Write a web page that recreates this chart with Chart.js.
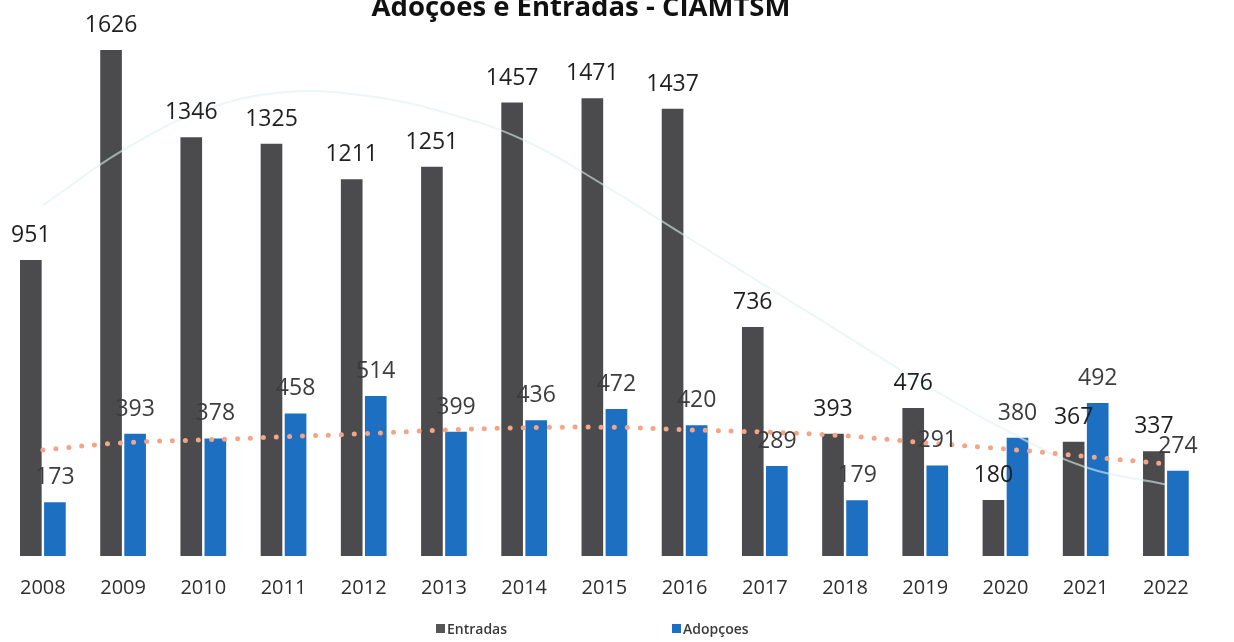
<!DOCTYPE html>
<html>
<head>
<meta charset="utf-8">
<script src="https://cdn.jsdelivr.net/npm/chart.js@4.4.0/dist/chart.umd.min.js"></script>
<style>
html,body{margin:0;padding:0;background:#fff;}
#wrap{position:relative;width:1234px;height:642px;}
</style>
</head>
<body>
<div id="wrap"><canvas id="c" width="1234" height="642"></canvas></div>
<script>
const years = ['2008','2009','2010','2011','2012','2013','2014','2015','2016','2017','2018','2019','2020','2021','2022'];
const entradas = [951,1626,1346,1325,1211,1251,1457,1471,1437,736,393,476,180,367,337];
const adopcoes = [173,393,378,458,514,399,436,472,420,289,179,291,380,492,274];
const adopcoesTrend = [341,364,373,383,393,405,412,414,406,398,386,364,344,320,296];
const entradasTrend = [1127,1304,1432,1490,1480,1426,1336,1191,1030,870,710,550,405,285,230];
const titleText = 'Adoçoes e Entradas - CIAMTSM';
const seriesNames = ['Entradas','Adopçoes'];

const GRAY = '#4b4b4d';
const BLUE = '#1c6fc1';
const FONT = '"Open Sans", "DejaVu Sans", sans-serif';

const labelPlugin = {
  id: 'barLabels',
  afterDatasetsDraw(chart) {
    const ctx = chart.ctx;
    ctx.save();
    ctx.font = '23px ' + FONT;
    ctx.textAlign = 'center';
    ctx.textBaseline = 'alphabetic';
    [0,1].forEach(di => {
      const meta = chart.getDatasetMeta(di);
      const ds = chart.data.datasets[di];
      ctx.fillStyle = di === 0 ? '#1f1f1f' : '#3c3c3c';
      meta.data.forEach((el, i) => {
        ctx.fillText(String(ds.data[i]), el.x, el.y - 18);
      });
    });
    ctx.restore();
  }
};

const titlePlugin = {
  id: 'topTitle',
  afterDraw(chart) {
    const ctx = chart.ctx;
    ctx.save();
    ctx.font = 'bold 27.5px ' + FONT;
    ctx.fillStyle = '#111';
    ctx.textAlign = 'center';
    ctx.textBaseline = 'alphabetic';
    ctx.fillText(titleText, 581, 16);
    ctx.restore();
  }
};

const legendPlugin = {
  id: 'customLegend',
  afterDraw(chart) {
    const ctx = chart.ctx;
    ctx.save();
    ctx.font = '600 14px ' + FONT;
    ctx.textBaseline = 'alphabetic';
    ctx.textAlign = 'left';
    const items = [{x:436, color:'#555'}, {x:672, color:BLUE}];
    items.forEach((it, k) => {
      ctx.fillStyle = it.color;
      ctx.fillRect(it.x, 624, 9, 9);
      ctx.fillStyle = '#3a3a3a';
      ctx.fillText(seriesNames[k], it.x + 11, 634);
    });
    ctx.restore();
  }
};

new Chart(document.getElementById('c'), {
  type: 'bar',
  data: {
    labels: years,
    datasets: [
      {label: seriesNames[0], data: entradas, backgroundColor: GRAY, order: 2,
       categoryPercentage: 0.6, barPercentage: 0.9},
      {label: seriesNames[1], data: adopcoes, backgroundColor: BLUE, order: 2,
       categoryPercentage: 0.6, barPercentage: 0.9},
      {type: 'line', label: 'trendE', data: entradasTrend, borderColor: 'rgba(222,240,242,0.6)',
       borderWidth: 2, pointRadius: 0, tension: 0.4, fill: false, order: 1},
      {type: 'line', label: 'trendA', data: adopcoesTrend, borderColor: '#f4a487',
       borderWidth: 5, borderDash: [0, 13], borderCapStyle: 'round', pointRadius: 0,
       tension: 0.4, fill: false, order: 0}
    ]
  },
  options: {
    responsive: false,
    animation: false,
    layout: {padding: {top: 27, left: 0, right: 28, bottom: 22}},
    plugins: {legend: {display: false}, title: {display: false}, tooltip: {enabled: false}},
    scales: {
      x: {
        grid: {display: false, drawTicks: false},
        border: {display: false},
        ticks: {color: '#2e2e2e', font: {family: FONT, size: 20}, padding: 20}
      },
      y: {display: false, min: 0, max: 1700}
    }
  },
  plugins: [labelPlugin, titlePlugin, legendPlugin]
});
</script>
</body>
</html>
